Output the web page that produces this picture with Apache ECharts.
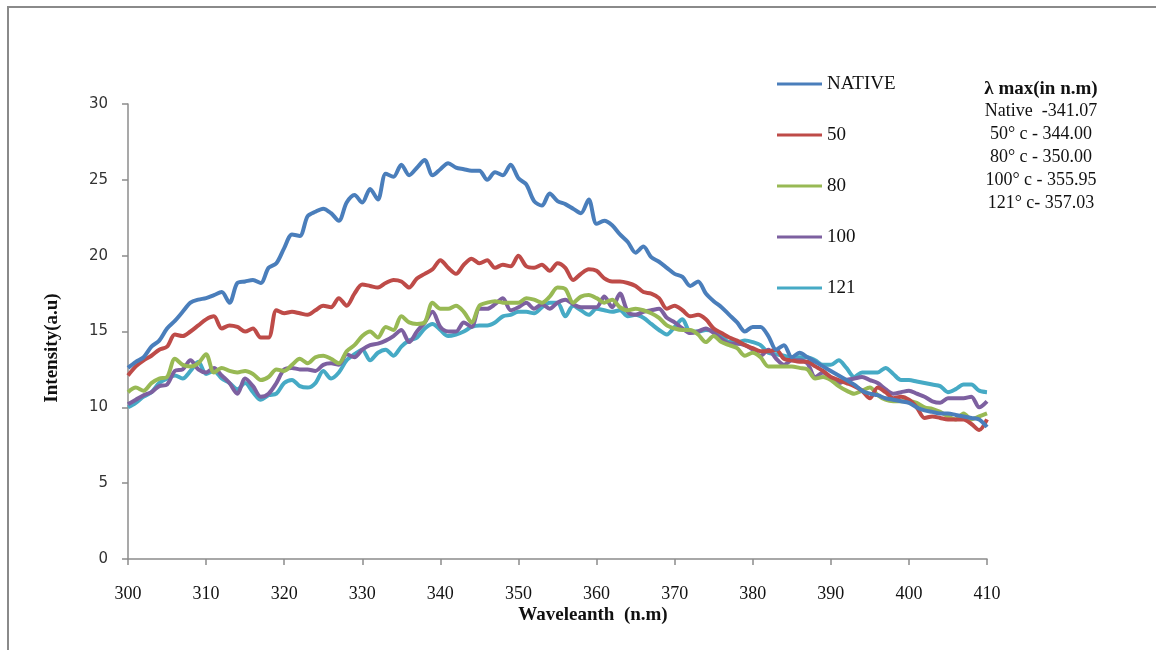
<!DOCTYPE html>
<html><head><meta charset="utf-8">
<script src="https://cdn.jsdelivr.net/npm/echarts@6/dist/echarts.min.js"></script>
<style>html,body{margin:0;padding:0;background:#fff}#c{width:1156px;height:650px}</style>
</head><body><div id="c"></div>
<script>
var wavelengths = [300,301,302,303,304,305,306,307,308,309,310,311,312,313,314,315,316,317,318,319,320,321,322,323,324,325,326,327,328,329,330,331,332,333,334,335,336,337,338,339,340,341,342,343,344,345,346,347,348,349,350,351,352,353,354,355,356,357,358,359,360,361,362,363,364,365,366,367,368,369,370,371,372,373,374,375,376,377,378,379,380,381,382,383,384,385,386,387,388,389,390,391,392,393,394,395,396,397,398,399,400,401,402,403,404,405,406,407,408,409,410];
var xTickLabels = ['300','310','320','330','340','350','360','370','380','390','400','410'];
var yTickLabels = ['0','5','10','15','20','25','30'];
var seriesNames = ['NATIVE','50','80','100','121'];
var native = [12.6,13.0,13.3,14.0,14.4,15.2,15.7,16.3,16.9,17.1,17.2,17.4,17.6,16.9,18.2,18.3,18.4,18.2,19.2,19.5,20.5,21.4,21.3,22.6,22.9,23.1,22.8,22.3,23.5,24.0,23.5,24.4,23.7,25.4,25.2,26.0,25.3,25.8,26.3,25.3,25.7,26.1,25.8,25.7,25.6,25.6,25.0,25.5,25.3,26.0,25.1,24.7,23.6,23.3,24.1,23.6,23.4,23.1,22.8,23.7,22.1,22.3,22.0,21.4,20.9,20.2,20.6,19.9,19.6,19.2,18.8,18.6,18.0,18.3,17.5,17.0,16.6,16.1,15.6,15.0,15.3,15.3,14.7,13.8,14.1,13.3,13.6,13.3,13.0,12.7,12.4,12.1,11.8,11.5,11.1,10.9,10.8,10.6,10.5,10.4,10.3,10.0,9.8,9.7,9.6,9.6,9.5,9.4,9.3,9.2,8.7];
var t50 = [12.1,12.7,13.1,13.4,13.8,14.0,14.8,14.7,15.0,15.4,15.8,16.0,15.2,15.4,15.3,15.0,15.2,14.6,14.6,16.4,16.2,16.3,16.2,16.1,16.4,16.7,16.6,17.2,16.7,17.5,18.1,18.0,17.9,18.2,18.4,18.3,17.9,18.5,18.8,19.1,19.7,19.2,18.8,19.4,19.8,19.5,19.7,19.2,19.4,19.3,20.0,19.3,19.2,19.4,19.0,19.5,19.2,18.4,18.8,19.1,19.0,18.5,18.3,18.3,18.2,18.0,17.6,17.5,17.2,16.5,16.7,16.4,16.0,16.1,15.8,15.2,14.9,14.6,14.4,14.1,13.9,13.7,13.7,13.8,13.2,13.1,13.0,13.0,12.7,12.4,12.0,11.8,11.6,11.4,11.1,10.6,11.3,11.0,10.6,10.7,10.5,10.0,9.3,9.4,9.3,9.2,9.2,9.2,8.9,8.5,9.2];
var t80 = [11.0,11.3,11.1,11.6,11.9,12.0,13.2,12.8,12.7,12.9,13.5,12.3,12.6,12.4,12.3,12.4,12.2,11.8,12.0,12.5,12.4,12.8,13.2,12.9,13.3,13.4,13.2,12.9,13.7,14.1,14.7,15.0,14.6,15.3,15.1,16.0,15.6,15.5,15.6,16.9,16.5,16.5,16.7,16.3,15.6,16.7,16.9,17.0,16.9,16.9,16.9,17.2,17.1,16.9,17.3,17.9,17.8,16.9,17.3,17.4,17.2,16.9,17.1,16.6,16.4,16.5,16.4,16.2,15.9,15.4,15.2,15.1,15.1,14.8,14.3,14.7,14.3,14.1,13.9,13.4,13.6,13.3,12.7,12.7,12.7,12.7,12.6,12.5,11.9,12.0,11.8,11.4,11.1,10.9,11.1,11.3,10.8,10.5,10.4,10.4,10.4,10.3,10.0,9.9,9.7,9.4,9.2,9.6,9.2,9.4,9.6];
var t100 = [10.2,10.5,10.8,11.0,11.4,11.5,12.4,12.5,13.1,12.5,12.3,12.6,12.1,11.6,10.9,11.9,11.4,10.7,10.9,11.6,12.5,12.6,12.5,12.5,12.4,12.8,12.9,12.8,13.5,13.3,13.8,14.1,14.2,14.4,14.7,15.1,14.3,15.0,15.6,16.3,15.3,15.0,15.0,15.6,15.3,16.5,16.5,16.8,17.2,16.4,16.6,16.9,16.5,16.8,16.5,16.9,17.1,16.8,16.6,16.6,16.6,17.3,16.6,17.5,16.3,16.1,16.3,16.4,16.5,15.9,15.6,15.2,14.9,15.0,15.2,14.9,14.5,14.2,14.2,14.1,13.8,13.4,13.8,13.2,12.8,13.1,13.1,12.9,12.0,12.3,11.9,11.6,11.8,11.9,12.0,11.8,11.6,11.2,10.9,11.0,11.1,10.9,10.7,10.4,10.3,10.6,10.6,10.6,10.7,10.0,10.4];
var t121 = [10.0,10.3,10.7,11.0,11.6,11.9,12.1,11.9,12.4,13.0,12.2,12.4,11.9,11.6,11.2,11.6,11.0,10.5,10.8,10.9,11.6,11.8,11.4,11.3,11.6,12.4,11.9,12.3,13.1,13.5,13.8,13.1,13.6,13.8,13.4,14.0,14.4,14.6,15.2,15.5,15.1,14.7,14.8,15.0,15.3,15.4,15.4,15.6,16.0,16.1,16.3,16.3,16.2,16.6,16.9,16.9,16.0,16.7,16.4,16.1,16.5,16.4,16.3,16.4,16.0,16.1,15.9,15.5,15.1,14.8,15.3,15.8,15.0,15.0,15.1,15.0,14.7,14.3,14.3,14.4,14.3,14.1,13.6,13.5,13.4,13.3,13.3,13.3,13.1,12.8,12.8,13.1,12.6,12.0,12.3,12.3,12.3,12.6,12.2,11.8,11.8,11.7,11.6,11.5,11.4,11.0,11.2,11.5,11.5,11.1,11.0];
var annotationTitle = 'λ max(in n.m)';
var annotationLines = ['Native  -341.07','50° c - 344.00','80° c - 350.00','100° c - 355.95','121° c- 357.03'];
var colors = ['#4A7EBB','#BE4B48','#98B954','#7D60A0','#46AAC5'];

var seriesValues = [native, t50, t80, t100, t121];
var chart = echarts.init(document.getElementById('c'));
var series = seriesNames.map(function(n, i){
  return {
    name: n, type: 'line', data: seriesValues[i], showSymbol: false, symbol: 'none',
    smooth: 0.3, lineStyle: {width: 4, color: colors[i]}, itemStyle: {color: colors[i]},
    z: 10 - i
  };
});
chart.setOption({
  animation: false,
  backgroundColor: '#fff',
  grid: {left: 128, right: 169, top: 104, bottom: 91, containLabel: false},
  legend: {
    orient: 'vertical', left: 777, top: 73, padding: 0, icon: 'rect', itemWidth: 45, itemHeight: 3,
    itemGap: 29, data: seriesNames,
    textStyle: {fontFamily: 'Liberation Serif', fontSize: 19, color: '#111', lineHeight: 22, padding: [0,0,0,0]}
  },
  xAxis: {
    type: 'category', data: wavelengths, boundaryGap: false,
    axisLine: {lineStyle: {color: '#8c8c8c', width: 1.5}},
    axisTick: {show: true, interval: 9, length: 6, lineStyle: {color: '#8c8c8c', width: 1.5}},
    axisLabel: {interval: 9, margin: 26, fontFamily: 'Liberation Serif', fontSize: 18, color: '#111',
      formatter: function(v){ return xTickLabels.indexOf(String(v)) >= 0 ? String(v) : ''; }},
    splitLine: {show: false}
  },
  yAxis: {
    type: 'value', min: 0, max: 30, interval: 5,
    axisLine: {show: true, lineStyle: {color: '#8c8c8c', width: 1.5}},
    axisTick: {show: true, length: 6, lineStyle: {color: '#8c8c8c', width: 1.5}},
    axisLabel: {margin: 20, fontFamily: 'DejaVu Sans', fontSize: 15, color: '#333',
      formatter: function(v){ return yTickLabels[Math.round(v/5)]; }},
    splitLine: {show: false}
  },
  graphic: [
    {type: 'polyline', shape: {points: [[8,650],[8,7],[1156,7]]}, style: {stroke: '#8a8a8a', lineWidth: 2, fill: null}, silent: true},
    {type: 'text', x: 52, y: 348, rotation: Math.PI/2, style: {text: 'Intensity(a.u)', font: 'bold 19px "Liberation Serif"', fill: '#111', align: 'center', verticalAlign: 'middle'}},
    {type: 'text', x: 593, y: 615, style: {text: 'Waveleanth  (n.m)', font: 'bold 19px "Liberation Serif"', fill: '#111', align: 'center', verticalAlign: 'middle'}},
    {type: 'text', x: 1041, y: 89, style: {text: annotationTitle, font: 'bold 19px "Liberation Serif"', fill: '#111', align: 'center', verticalAlign: 'middle'}},
    {type: 'text', x: 1041, y: 100, style: {text: annotationLines.join('\n'), font: '18px "Liberation Serif"', lineHeight: 23, fill: '#111', align: 'center', verticalAlign: 'top'}}
  ],
  series: series
});
</script></body></html>
